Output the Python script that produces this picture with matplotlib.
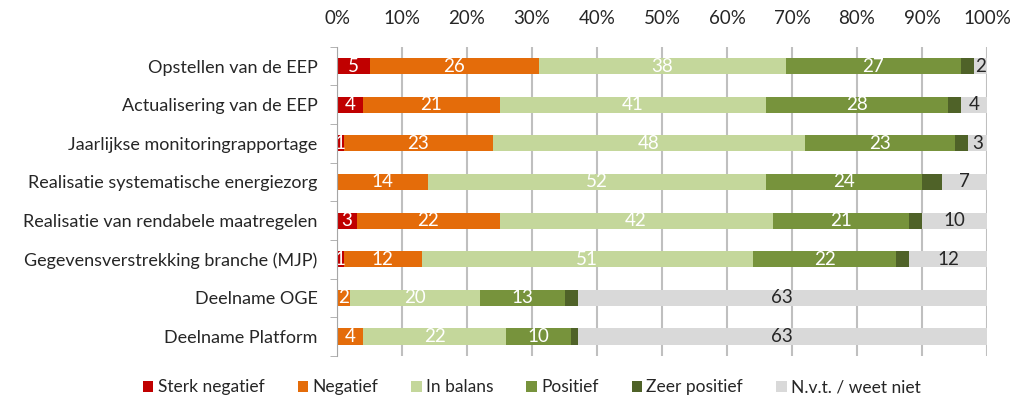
import numpy as np
import matplotlib
matplotlib.use("Agg")
import matplotlib.pyplot as plt

categories = ["Opstellen van de EEP", "Actualisering van de EEP", "Jaarlijkse monitoringrapportage",
              "Realisatie systematische energiezorg", "Realisatie van rendabele maatregelen",
              "Gegevensverstrekking branche (MJP)", "Deelname OGE", "Deelname Platform"]
series = ["Sterk negatief", "Negatief", "In balans", "Positief", "Zeer positief", "N.v.t. / weet niet"]
sterk_negatief = [5, 4, 1, 0, 3, 1, 0, 0]
negatief = [26, 21, 23, 14, 22, 12, 2, 4]
in_balans = [38, 41, 48, 52, 42, 51, 20, 22]
positief = [27, 28, 23, 24, 21, 22, 13, 10]
zeer_positief = [2, 2, 2, 3, 2, 2, 2, 1]
nvt = [2, 4, 3, 7, 10, 12, 63, 63]
xticks = [0, 10, 20, 30, 40, 50, 60, 70, 80, 90, 100]

colors = ["#C00000", "#E46C0A", "#C4D79B", "#77933C", "#4F6228", "#D9D9D9"]
label_colors = ["white", "white", "white", "white", None, "#262626"]

plt.rcParams['font.family'] = ['Lato', 'DejaVu Sans']

fig = plt.figure(figsize=(10.13, 4.03), dpi=100)
ax = fig.add_axes([0.3327, 0.117, 0.6417, 0.767])

data = [sterk_negatief, negatief, in_balans, positief, zeer_positief, nvt]
y = np.arange(len(categories))
left = np.zeros(len(categories))
for vals, name, col, lc in zip(data, series, colors, label_colors):
    vals = np.array(vals, dtype=float)
    ax.barh(y, vals, left=left, height=0.42, color=col, label=name, zorder=3)
    if lc is not None:
        for yi, (l, v) in enumerate(zip(left, vals)):
            if v > 0:
                ax.text(l + v / 2, yi, str(int(v)), ha="center", va="center",
                        color=lc, fontsize=13.5, zorder=4)
    left += vals

ax.set_ylim(len(categories) - 0.5, -0.5)
ax.set_xlim(0, 100)
ax.set_yticks(y)
ax.set_yticklabels(categories, fontsize=13, color="#262626")
ax.set_yticks(np.arange(-0.5, len(categories)), minor=True)
ax.tick_params(axis="y", which="major", length=0, pad=14)
ax.tick_params(axis="y", which="minor", length=5, color="#A6A6A6", direction="out")

ax.xaxis.tick_top()
ax.set_xticks(xticks)
ax.set_xticklabels([f"{t}%" for t in xticks], fontsize=13.5, color="#262626")
ax.tick_params(axis="x", length=0, pad=14)
ax.grid(axis="x", color="#BFBFBF", linewidth=1.5, zorder=0)

for s in ["top", "right", "bottom"]:
    ax.spines[s].set_visible(False)
ax.spines["left"].set_color("#A6A6A6")
ax.spines["left"].set_zorder(5)

fig.legend(loc="lower center", bbox_to_anchor=(0.525, -0.02), ncol=6, frameon=False,
           fontsize=12.5, handlelength=0.6, handleheight=0.6, handletextpad=0.25,
           columnspacing=1.9, labelcolor="#262626")

fig.savefig("out.png", dpi=100)
